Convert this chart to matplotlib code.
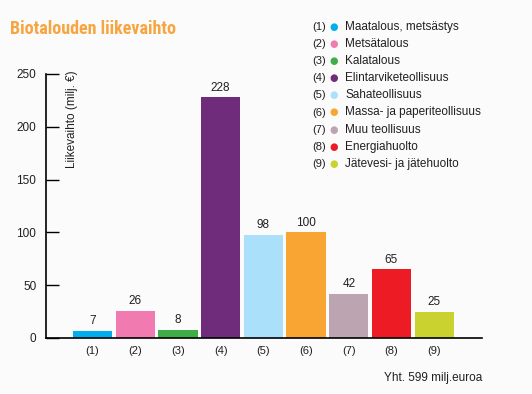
import matplotlib.pyplot as plt
from matplotlib import font_manager

labels = ["(1)", "(2)", "(3)", "(4)", "(5)", "(6)", "(7)", "(8)", "(9)"]
names = ["Maatalous, metsästys", "Metsätalous", "Kalatalous", "Elintarviketeollisuus",
         "Sahateollisuus", "Massa- ja paperiteollisuus", "Muu teollisuus",
         "Energiahuolto", "Jätevesi- ja jätehuolto"]
values = [7, 26, 8, 228, 98, 100, 42, 65, 25]
colors = ["#00aeef", "#f17ab0", "#3fae49", "#6f2c7b", "#abe0fa",
          "#f9a533", "#bca4b0", "#ed1c24", "#cad22f"]

plt.rcParams["font.family"] = ["Liberation Sans", "DejaVu Sans"]
txt = "#231f20"
bg = "#fbfbfb"

# condensed font for the title if one is installed
installed = {f.name for f in font_manager.fontManager.ttflist}
title_font, title_size = "Liberation Sans", 11.5
for cand in ["Liberation Sans Narrow", "Roboto Condensed", "Open Sans Condensed",
             "Noto Sans Condensed", "DejaVu Sans Condensed"]:
    if cand in installed:
        title_font, title_size = cand, 13
        break

fig = plt.figure(figsize=(5.32, 3.94), dpi=100, facecolor=bg)
ax = fig.add_axes([46 / 532, 56 / 394, 436 / 532, 264 / 394], facecolor=bg)

x = range(len(values))
ax.bar(x, values, width=0.92, color=colors)
for i, v in enumerate(values):
    ax.annotate(str(v), (i, v), xytext=(0, 2.5), textcoords="offset points",
                ha="center", va="bottom", fontsize=8.5, color=txt)

ax.set_xlim(-1.09, 9.12)
ax.set_ylim(0, 250)
ax.set_yticks([0, 50, 100, 150, 200, 250])
ax.set_xticks(list(x))
ax.set_xticklabels(labels, fontsize=8, color=txt)
ax.tick_params(axis="x", length=0, pad=6)
ax.tick_params(axis="y", direction="in", length=9.5, width=1, labelsize=8.5,
               labelcolor=txt, pad=7)
for s in ["top", "right"]:
    ax.spines[s].set_visible(False)
for s in ["left", "bottom"]:
    ax.spines[s].set_linewidth(1.2)
    ax.spines[s].set_color("black")

fig.text(72 / 532, 1 - 70 / 394, "Liikevaihto (milj. €)", rotation=90,
         ha="center", va="top", fontsize=8.5, color=txt)

fig.text(10 / 532, 1 - 29 / 394, "Biotalouden liikevaihto", fontsize=title_size,
         fontweight="bold", color="#f7a540", family=title_font,
         ha="left", va="center")

for i, (lab, name, c) in enumerate(zip(labels, names, colors)):
    yy = 1 - (27 + i * 17.1) / 394
    fig.text(312 / 532, yy, lab, fontsize=8, color=txt, ha="left", va="center")
    fig.text(334 / 532, yy, "●", fontsize=7, color=c, ha="center", va="center",
             family="DejaVu Sans")
    fig.text(345 / 532, yy, name, fontsize=8.5, color=txt, ha="left", va="center")

fig.text(482 / 532, 1 - 378 / 394, "Yht. 599 milj.euroa", fontsize=8.5, color=txt,
         ha="right", va="center")

fig.savefig("out.png", dpi=100, facecolor=bg)
